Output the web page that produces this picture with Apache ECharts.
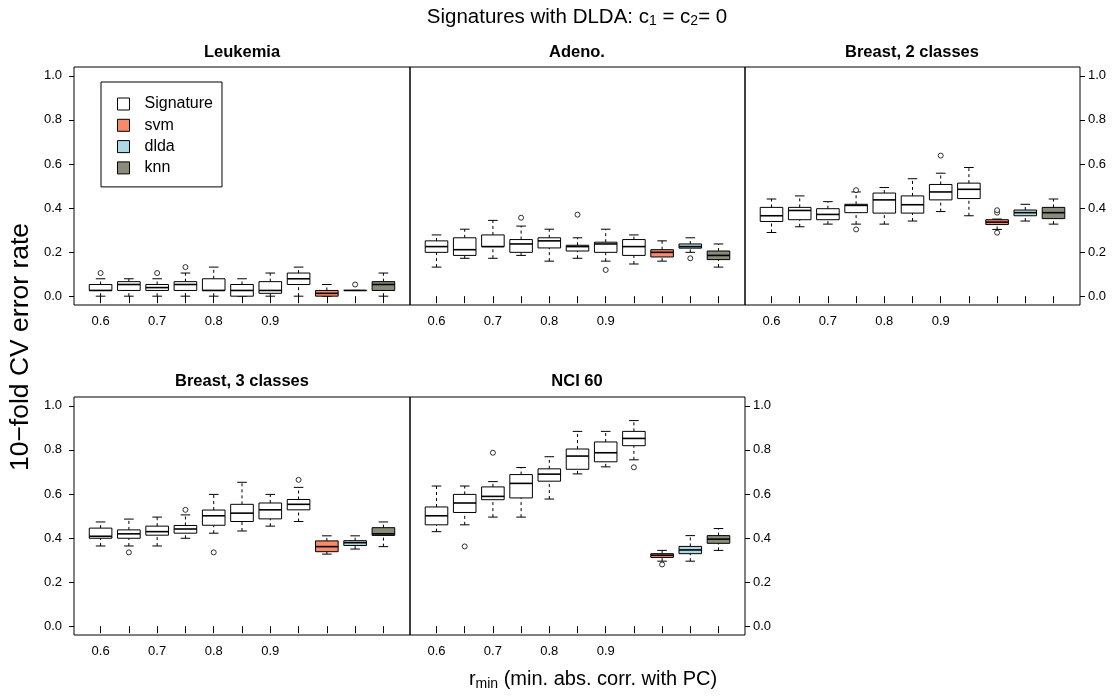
<!DOCTYPE html>
<html>
<head>
<meta charset="utf-8">
<script src="https://cdn.jsdelivr.net/npm/echarts@6/dist/echarts.min.js"></script>
<style>
html,body{margin:0;padding:0;background:#fff;}
#chart{width:1117px;height:697px;}
</style>
</head>
<body>
<div id="chart"></div>
<script>
// ---------------- data ----------------
const panelTitles = ['Leukemia', 'Adeno.', 'Breast, 2 classes', 'Breast, 3 classes', 'NCI 60'];
const boxPositions = [1, 2, 3, 4, 5, 6, 7, 8, 9, 10, 11];
const boxGroups = ['Signature','Signature','Signature','Signature','Signature','Signature','Signature','Signature','svm','dlda','knn'];
const tickLabels = ['0.6', '', '0.7', '', '0.8', '', '0.9', '', '', '', ''];
const yTickValues = [0, 0.2, 0.4, 0.6, 0.8, 1.0];
const groupNames = ['Signature', 'svm', 'dlda', 'knn'];

// each row: [min, Q1, median, Q3, max]
const leukemiaStats = [
  [0, 0.026, 0.026, 0.053, 0.079],
  [0, 0.026, 0.053, 0.066, 0.079],
  [0, 0.026, 0.039, 0.053, 0.079],
  [0, 0.026, 0.053, 0.066, 0.105],
  [0, 0.026, 0.026, 0.079, 0.132],
  [0, 0, 0.026, 0.053, 0.079],
  [0, 0.013, 0.026, 0.066, 0.105],
  [0, 0.053, 0.079, 0.105, 0.132],
  [0, 0, 0.013, 0.026, 0.053],
  [0.026, 0.026, 0.026, 0.026, 0.026],
  [0, 0.026, 0.053, 0.066, 0.105]
];
const leukemiaOutliers = [[1, 0.105], [3, 0.105], [4, 0.132], [10, 0.053]];

const adenoStats = [
  [0.132, 0.199, 0.225, 0.251, 0.278],
  [0.172, 0.185, 0.211, 0.265, 0.304],
  [0.172, 0.225, 0.225, 0.278, 0.344],
  [0.185, 0.199, 0.237, 0.257, 0.318],
  [0.159, 0.219, 0.251, 0.265, 0.304],
  [0.172, 0.205, 0.225, 0.231, 0.265],
  [0.159, 0.199, 0.237, 0.245, 0.304],
  [0.146, 0.185, 0.225, 0.257, 0.278],
  [0.159, 0.178, 0.199, 0.211, 0.251],
  [0.199, 0.218, 0.225, 0.237, 0.265],
  [0.132, 0.166, 0.185, 0.205, 0.237]
];
const adenoOutliers = [[4, 0.356], [6, 0.370], [7, 0.119], [10, 0.172]];

const breast2Stats = [
  [0.289, 0.339, 0.365, 0.403, 0.441],
  [0.315, 0.347, 0.389, 0.403, 0.455],
  [0.327, 0.347, 0.371, 0.397, 0.429],
  [0.327, 0.379, 0.412, 0.417, 0.473],
  [0.327, 0.377, 0.437, 0.468, 0.493],
  [0.341, 0.377, 0.415, 0.455, 0.533],
  [0.384, 0.437, 0.473, 0.507, 0.558],
  [0.365, 0.443, 0.485, 0.513, 0.584],
  [0.303, 0.325, 0.336, 0.347, 0.350],
  [0.341, 0.365, 0.379, 0.391, 0.417],
  [0.327, 0.352, 0.379, 0.403, 0.441]
];
const breast2Outliers = [[4, 0.481], [4, 0.303], [7, 0.638], [9, 0.379], [9, 0.390], [9, 0.288]];

const breast3Stats = [
  [0.364, 0.399, 0.408, 0.445, 0.473],
  [0.364, 0.399, 0.419, 0.437, 0.486],
  [0.364, 0.413, 0.429, 0.454, 0.495],
  [0.399, 0.422, 0.441, 0.457, 0.505],
  [0.422, 0.458, 0.501, 0.527, 0.598],
  [0.432, 0.475, 0.513, 0.553, 0.653],
  [0.454, 0.487, 0.528, 0.559, 0.598],
  [0.475, 0.528, 0.553, 0.575, 0.630],
  [0.327, 0.338, 0.361, 0.387, 0.410],
  [0.350, 0.366, 0.379, 0.388, 0.410],
  [0.361, 0.412, 0.419, 0.447, 0.473]
];
const breast3Outliers = [[2, 0.335], [4, 0.528], [5, 0.335], [8, 0.664]];

const nci60Stats = [
  [0.429, 0.460, 0.501, 0.541, 0.636],
  [0.460, 0.516, 0.559, 0.598, 0.636],
  [0.495, 0.574, 0.589, 0.632, 0.656],
  [0.495, 0.582, 0.648, 0.688, 0.720],
  [0.577, 0.658, 0.690, 0.714, 0.769],
  [0.691, 0.712, 0.772, 0.804, 0.884],
  [0.723, 0.746, 0.787, 0.836, 0.884],
  [0.755, 0.819, 0.852, 0.884, 0.933],
  [0.295, 0.312, 0.322, 0.329, 0.344],
  [0.295, 0.329, 0.346, 0.362, 0.411],
  [0.344, 0.376, 0.395, 0.411, 0.443]
];
const nci60Outliers = [[2, 0.362], [3, 0.787], [8, 0.721], [9, 0.280]];

// ---------------- layout & style ----------------
const groupColors = { Signature: '#ffffff', svm: '#F8896A', dlda: '#ADD8E6', knn: '#8B8B7A' };
const FONT = '"Liberation Sans", Arial, sans-serif';
const panelStats = [leukemiaStats, adenoStats, breast2Stats, breast3Stats, nci60Stats];
const panelOutliers = [leukemiaOutliers, adenoOutliers, breast2Outliers, breast3Outliers, nci60Outliers];
const panelGrids = [
  { left: 74, top: 67, width: 336, height: 238 },
  { left: 410, top: 67, width: 335, height: 238 },
  { left: 745, top: 67, width: 335, height: 238 },
  { left: 74, top: 397, width: 336, height: 238 },
  { left: 410, top: 397, width: 335, height: 238 }
];
const yAxisSide = ['left', null, 'right', 'left', 'right'];

function renderBox(params, api) {
  const x = api.value(0);
  const mn = api.value(1), q1 = api.value(2), md = api.value(3), q3 = api.value(4), mx = api.value(5);
  const halfBox = 0.4, halfCap = 0.17;
  const c = (a, b) => api.coord([a, b]);
  const color = api.visual('color');
  const lineStyle = { stroke: '#000', lineWidth: 1, fill: null };
  const dashStyle = { stroke: '#000', lineWidth: 1, lineDash: [3, 3], fill: null };
  const pMin = c(x, mn), pQ1 = c(x, q1), pQ3 = c(x, q3), pMax = c(x, mx);
  const bl = c(x - halfBox, q3), br = c(x + halfBox, q1);
  const children = [];
  if (mx > q3) {
    children.push({ type: 'line', shape: { x1: pQ3[0], y1: pQ3[1], x2: pMax[0], y2: pMax[1] }, style: dashStyle });
  }
  if (mn < q1) {
    children.push({ type: 'line', shape: { x1: pMin[0], y1: pMin[1], x2: pQ1[0], y2: pQ1[1] }, style: dashStyle });
  }
  const capT1 = c(x - halfCap, mx), capT2 = c(x + halfCap, mx);
  const capB1 = c(x - halfCap, mn), capB2 = c(x + halfCap, mn);
  children.push({ type: 'line', shape: { x1: capT1[0], y1: capT1[1], x2: capT2[0], y2: capT2[1] }, style: lineStyle });
  children.push({ type: 'line', shape: { x1: capB1[0], y1: capB1[1], x2: capB2[0], y2: capB2[1] }, style: lineStyle });
  children.push({
    type: 'rect',
    shape: { x: bl[0], y: bl[1], width: br[0] - bl[0], height: Math.max(br[1] - bl[1], 0.01) },
    style: { fill: color, stroke: '#000', lineWidth: 1 }
  });
  const m1 = c(x - halfBox, md), m2 = c(x + halfBox, md);
  children.push({ type: 'line', shape: { x1: m1[0], y1: m1[1], x2: m2[0], y2: m2[1] }, style: { stroke: '#000', lineWidth: 1.6 } });
  return { type: 'group', children };
}

const grids = [], xAxes = [], yAxes = [], series = [];
panelGrids.forEach((g, i) => {
  grids.push(Object.assign({ show: true, borderColor: '#000', borderWidth: 1, backgroundColor: 'transparent' }, g));
  xAxes.push({
    type: 'value', gridIndex: i, min: 0.06, max: 11.94,
    splitLine: { show: false },
    axisLine: { show: false },
    axisTick: { show: true, length: 7, customValues: boxPositions, lineStyle: { color: '#000' } },
    axisLabel: {
      show: true, margin: 10, fontFamily: FONT, fontSize: 13, color: '#000',
      customValues: boxPositions.filter((p, k) => tickLabels[k] !== ''),
      formatter: v => tickLabels[boxPositions.indexOf(Math.round(v))]
    }
  });
  const side = yAxisSide[i];
  yAxes.push({
    type: 'value', gridIndex: i, min: -0.04, max: 1.04,
    position: side || 'left',
    splitLine: { show: false },
    axisLine: { show: false },
    axisTick: { show: !!side, length: 5, customValues: yTickValues, lineStyle: { color: '#000' } },
    axisLabel: {
      show: !!side, margin: side === 'left' ? 12 : 8, fontFamily: FONT, fontSize: 13, color: '#000',
      customValues: yTickValues, formatter: v => v.toFixed(1)
    }
  });
  groupNames.forEach(name => {
    const data = [];
    boxPositions.forEach((p, k) => {
      if (boxGroups[k] === name) data.push([p].concat(panelStats[i][k]));
    });
    series.push({
      type: 'custom', name, xAxisIndex: i, yAxisIndex: i,
      itemStyle: { color: groupColors[name] },
      renderItem: renderBox, data, encode: { x: 0, y: [1, 2, 3, 4, 5] }, silent: true, clip: false
    });
  });
  series.push({
    type: 'scatter', name: 'outliers' + i, xAxisIndex: i, yAxisIndex: i,
    symbol: 'circle', symbolSize: 5,
    itemStyle: { color: '#fff', borderColor: '#000', borderWidth: 1 },
    data: panelOutliers[i], silent: true
  });
});

const titleCenters = [[242, 52], [577, 52], [912, 52], [242, 381], [577, 381]];
const graphics = panelTitles.map((t, i) => ({
  type: 'text', x: titleCenters[i][0], y: titleCenters[i][1],
  style: { text: t, textAlign: 'center', textVerticalAlign: 'middle', font: 'bold 16.5px ' + FONT, fill: '#000' }
}));
graphics.push({
  type: 'text', x: 577, y: 17,
  style: {
    text: '{a|Signatures with DLDA: c}{s|1}{a| = c}{s|2}{a|= 0}',
    textAlign: 'center', textVerticalAlign: 'middle', fill: '#000',
    rich: {
      a: { fontFamily: FONT, fontSize: 20.5, color: '#000' },
      s: { fontFamily: FONT, fontSize: 14, color: '#000', padding: [9, 0, 0, 0] }
    }
  }
});
graphics.push({
  type: 'text', x: 593, y: 679,
  style: {
    text: '{a|r}{s|min}{a| (min. abs. corr. with PC)}',
    textAlign: 'center', textVerticalAlign: 'middle', fill: '#000',
    rich: {
      a: { fontFamily: FONT, fontSize: 20, color: '#000' },
      s: { fontFamily: FONT, fontSize: 14, color: '#000', padding: [10, 0, 0, 0] }
    }
  }
});
graphics.push({
  type: 'text', x: 21, y: 347, rotation: Math.PI / 2,
  style: { text: '10\u2212fold CV error rate', textAlign: 'center', textVerticalAlign: 'middle', font: '26.5px ' + FONT, fill: '#000' }
});

const option = {
  backgroundColor: '#fff',
  animation: false,
  grid: grids, xAxis: xAxes, yAxis: yAxes, series,
  legend: {
    orient: 'vertical', left: 101, top: 82,
    padding: [14, 9, 11, 16], itemGap: 5.3, itemWidth: 12, itemHeight: 12,
    borderColor: '#000', borderWidth: 1, selectedMode: false,
    textStyle: { fontFamily: FONT, fontSize: 16, color: '#000', padding: [0, 0, 0, 10], lineHeight: 16 },
    data: groupNames.map(n => ({ name: n, icon: 'rect', itemStyle: { color: groupColors[n], borderColor: '#000', borderWidth: 1 } }))
  },
  graphic: graphics
};

const chart = echarts.init(document.getElementById('chart'), null, { renderer: 'canvas' });
chart.setOption(option);
</script>
</body>
</html>
